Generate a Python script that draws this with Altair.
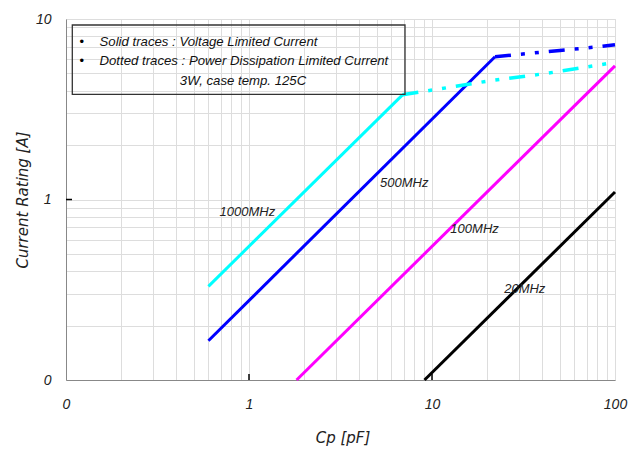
import altair as alt
import pandas as pd

# Voltage-limited current (solid traces): end points of each straight log-log segment
freqs = ["1000MHz", "500MHz", "100MHz", "20MHz"]
colors = ["#00FFFF", "#0000FF", "#FF00FF", "#000000"]

cp_1000_solid = [0.6, 6.9]
i_1000_solid = [0.33, 3.8]
cp_500_solid = [0.6, 22.1]
i_500_solid = [0.165, 6.18]
cp_100_solid = [1.82, 100]
i_100_solid = [0.1, 5.5]
cp_20_solid = [9.1, 100]
i_20_solid = [0.1, 1.1]

# Power-dissipation-limited current (dotted traces)
cp_1000_dot = [6.9, 20.8, 42.5, 100]
i_1000_dot = [3.8, 4.55, 5.0, 5.75]
cp_500_dot = [22.1, 50, 82, 100]
i_500_dot = [6.18, 6.7, 7.02, 7.2]

# Curve labels
label_text = ["1000MHz", "500MHz", "100MHz", "20MHz"]
label_cp = [0.69, 5.2, 12.6, 24.8]
label_i = [0.85, 1.23, 0.69, 0.32]

# Axis tick values (decades and their 2..9 subdivisions)
x_ticks = [m * d for d in (0.1, 1, 10) for m in range(1, 10)] + [100]
y_ticks = [m * d for d in (0.1, 1) for m in range(1, 10)] + [10]

legend_lines = [
    "Solid traces : Voltage Limited Current",
    "Dotted traces : Power Dissipation Limited Current",
]
legend_note = "3W, case temp. 125C"

W, H = 549, 361
FONT = "Liberation Sans"


def series_frame(name, xs, ys):
    return pd.DataFrame({"cp": xs, "cur": ys, "freq": name, "ord": range(len(xs))})


solid_df = pd.concat([
    series_frame("1000MHz", cp_1000_solid, i_1000_solid),
    series_frame("500MHz", cp_500_solid, i_500_solid),
    series_frame("100MHz", cp_100_solid, i_100_solid),
    series_frame("20MHz", cp_20_solid, i_20_solid),
])
dot_df = pd.concat([
    series_frame("1000MHz", cp_1000_dot, i_1000_dot),
    series_frame("500MHz", cp_500_dot, i_500_dot),
])
label_df = pd.DataFrame({"cp": label_cp, "cur": label_i, "txt": label_text})

x_scale = alt.Scale(type="log", domain=[0.1, 100], nice=False)
y_scale = alt.Scale(type="log", domain=[0.1, 10], nice=False)
color_scale = alt.Scale(domain=freqs, range=colors)

decade_expr = (
    "(datum.value > 0.09 && datum.value < 0.11) ? '0' : "
    "(indexof([1, 10, 100], datum.value) >= 0 ? format(datum.value, 'd') : '')"
)

x_axis = alt.Axis(
    values=x_ticks, labelExpr=decade_expr, grid=True, ticks=False,
    labelOverlap=False, labelFlush=False, labelBound=False,
    labelFont=FONT, labelFontSize=14, labelFontStyle="italic", labelColor="#222",
    labelPadding=17,
    title="Cp [pF]", titleFont="DejaVu Sans", titleFontSize=15,
    titleFontStyle="italic", titleFontWeight="normal", titleColor="#222",
    titleX=W / 2 + 2, titleY=57, titleBaseline="middle",
)
y_axis = alt.Axis(
    values=y_ticks, labelExpr=decade_expr, grid=True, ticks=False,
    labelOverlap=False, labelFlush=False, labelBound=False,
    labelFont=FONT, labelFontSize=14, labelFontStyle="italic", labelColor="#222",
    labelPadding=15,
    title="Current Rating [A]", titleFont="DejaVu Sans", titleFontSize=15,
    titleFontStyle="italic", titleFontWeight="normal", titleColor="#222",
    titleX=-44, titleY=H / 2, titleBaseline="middle", titleAngle=-90,
)

solid = alt.Chart(solid_df).mark_line(strokeWidth=3, strokeCap="butt").encode(
    x=alt.X("cp:Q", scale=x_scale, axis=x_axis),
    y=alt.Y("cur:Q", scale=y_scale, axis=y_axis),
    color=alt.Color("freq:N", scale=color_scale, legend=None),
    order="ord:Q",
)

dotted = alt.Chart(dot_df).mark_line(
    strokeWidth=3.5, strokeCap="butt", strokeDash=[16, 10, 4, 10, 4, 10]
).encode(
    x=alt.X("cp:Q", scale=x_scale),
    y=alt.Y("cur:Q", scale=y_scale),
    color=alt.Color("freq:N", scale=color_scale, legend=None),
    order="ord:Q",
)

labels = alt.Chart(label_df).mark_text(
    align="left", baseline="middle", font=FONT, fontSize=13,
    fontStyle="italic", color="#222",
).encode(
    x=alt.X("cp:Q", scale=x_scale),
    y=alt.Y("cur:Q", scale=y_scale),
    text="txt:N",
)

# Short inward ticks at the major decades
x_major = alt.Chart(pd.DataFrame({"cp": [1, 10]})).mark_rule(
    color="black", strokeWidth=1.5
).encode(x=alt.X("cp:Q", scale=x_scale), y=alt.value(H), y2=alt.value(H - 6))
y_major = alt.Chart(pd.DataFrame({"cur": [1]})).mark_rule(
    color="black", strokeWidth=1.5
).encode(y=alt.Y("cur:Q", scale=y_scale), x=alt.value(0), x2=alt.value(6))

# Annotation box in the upper left corner
one = pd.DataFrame({"k": [0]})
box = alt.Chart(one).mark_rect(fill=None, stroke="#333", strokeWidth=1.3).encode(
    x=alt.value(6.3), x2=alt.value(339), y=alt.value(6), y2=alt.value(75.3)
)
bullets = alt.Chart(pd.DataFrame({"yy": [23.3, 41.7]})).mark_text(
    text="•", fontSize=13, color="black", font=FONT
).encode(x=alt.value(15.7), y=alt.Y("yy:Q", scale=None))
legend_txt = alt.Chart(pd.DataFrame({"t": legend_lines, "yy": [23.3, 41.7]})).mark_text(
    align="left", baseline="middle", font=FONT, fontSize=13.2,
    fontStyle="italic", color="#111",
).encode(x=alt.value(33.5), y=alt.Y("yy:Q", scale=None), text="t:N")
note_txt = alt.Chart(one).mark_text(
    align="center", baseline="middle", font=FONT, fontSize=13.2,
    fontStyle="italic", color="#111", text=legend_note,
).encode(x=alt.value(177), y=alt.value(61.7))

chart = alt.layer(
    solid, dotted, labels, x_major, y_major, box, bullets, legend_txt, note_txt
).properties(
    width=W, height=H,
    autosize=alt.AutoSizeParams(type="none"),
    padding={"left": 66, "top": 19, "right": 28, "bottom": 75},
).configure_view(
    stroke="#a0a0a0", strokeWidth=2,
).configure_axis(
    gridColor="#c8c8c8", gridWidth=1, gridOpacity=1,
    domainColor="black", domainWidth=2,
).configure(background="white")

chart.save("out.html", embed_options={"renderer": "svg", "actions": False})
